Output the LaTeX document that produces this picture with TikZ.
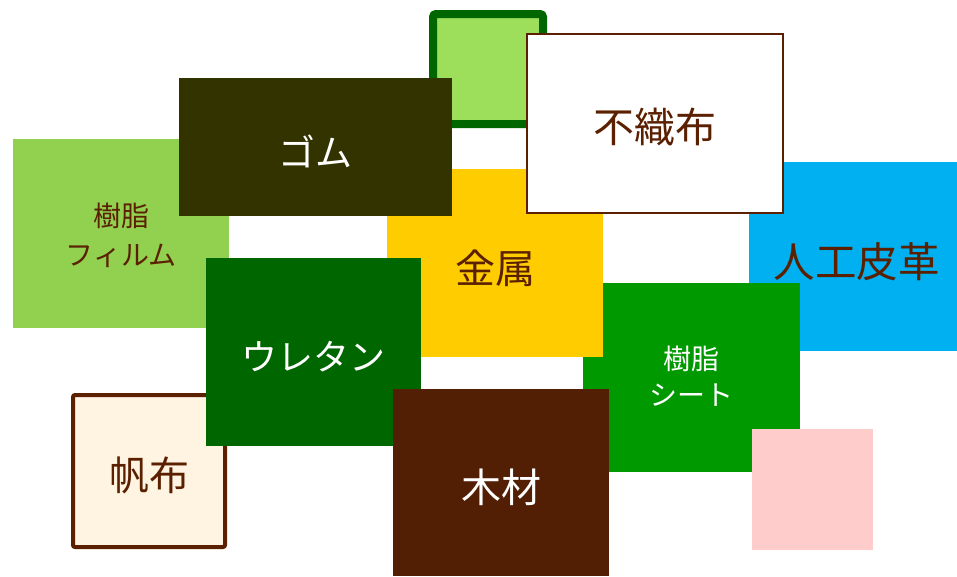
\documentclass[tikz,border=0pt]{standalone}
\usepackage{fontspec}
\setmainfont{Noto Sans CJK JP}
\definecolor{olive}{HTML}{333300}
\definecolor{filmgreen}{HTML}{92D050}
\definecolor{gold}{HTML}{FFCC00}
\definecolor{sky}{HTML}{00B0F0}
\definecolor{darkgreen}{HTML}{006600}
\definecolor{midgreen}{HTML}{009900}
\definecolor{wood}{HTML}{521E04}
\definecolor{cream}{HTML}{FFF3E1}
\definecolor{pinkish}{HTML}{FFCCCC}
\definecolor{brown}{HTML}{5A2000}
\definecolor{lightgreen}{HTML}{9DDF5A}
\newcommand{\lowered}[2]{\raisebox{-#1}[\height][\depth]{#2}}
\newcommand{\twolines}[2]{\begin{tabular}{@{}c@{}}#1\\#2\end{tabular}}
\tikzset{
  tile/.style={rectangle, draw=none, inner sep=0pt, outer sep=0pt, align=center},
}
\begin{document}
\begin{tikzpicture}[x=1pt,y=-1pt]
\useasboundingbox (0,0) rectangle (957,576);
% green bordered square
\node[tile, fill=lightgreen, draw=darkgreen, line width=8pt, rounded corners=3pt,
  minimum width=110pt, minimum height=110pt] (gsq) at (488,69) {};
% leather
\node[tile, fill=sky, minimum width=210pt, minimum height=189pt, text=brown,
  font=\fontsize{41.5}{46}\selectfont] (leather) at (854,256.5) {\lowered{5pt}{\hspace{5pt}人工皮革}};
% resin sheet
\node[tile, fill=midgreen, minimum width=217pt, minimum height=189pt, text=white,
  font=\fontsize{28}{36}\selectfont] (sheet) at (691.5,377.5) {\lowered{3pt}{\twolines{樹脂}{シート}}};
% metal
\node[tile, fill=gold, minimum width=216pt, minimum height=188pt, text=brown,
  font=\fontsize{40}{44}\selectfont] (metal) at (495,263) {\lowered{5pt}{金属}};
% resin film
\node[tile, fill=filmgreen, minimum width=216pt, minimum height=189pt, text=brown,
  font=\fontsize{28}{39}\selectfont] (film) at (121,233.5) {\lowered{5pt}{\twolines{樹脂}{フィルム}}};
% rubber
\node[tile, fill=olive, minimum width=273pt, minimum height=138pt, text=white,
  font=\fontsize{37}{42}\selectfont] (rubber) at (315.5,147) {\lowered{4pt}{ゴム}};
% nonwoven
\node[tile, fill=white, draw=brown, line width=2pt, minimum width=256pt, minimum height=179pt,
  text=brown, font=\fontsize{41}{46}\selectfont] (nonwoven) at (655,123.5) {\lowered{4pt}{不織布}};
% canvas
\node[tile, fill=cream, draw=brown, line width=4pt, rounded corners=2pt,
  minimum width=152pt, minimum height=152pt, text=brown,
  font=\fontsize{40}{44}\selectfont] (canvas) at (149,471) {\lowered{4pt}{帆布}};
% urethane
\node[tile, fill=darkgreen, minimum width=215pt, minimum height=188pt, text=white,
  font=\fontsize{36}{40}\selectfont] (urethane) at (313.5,352) {\lowered{5pt}{ウレタン}};
% wood
\node[tile, fill=wood, minimum width=216pt, minimum height=187pt, text=white,
  font=\fontsize{40}{44}\selectfont] (woodbox) at (501,482.5) {\lowered{5pt}{木材}};
% pink
\node[tile, fill=pinkish, minimum width=121pt, minimum height=121pt] (pink) at (812.5,489.5) {};
\end{tikzpicture}
\end{document}
